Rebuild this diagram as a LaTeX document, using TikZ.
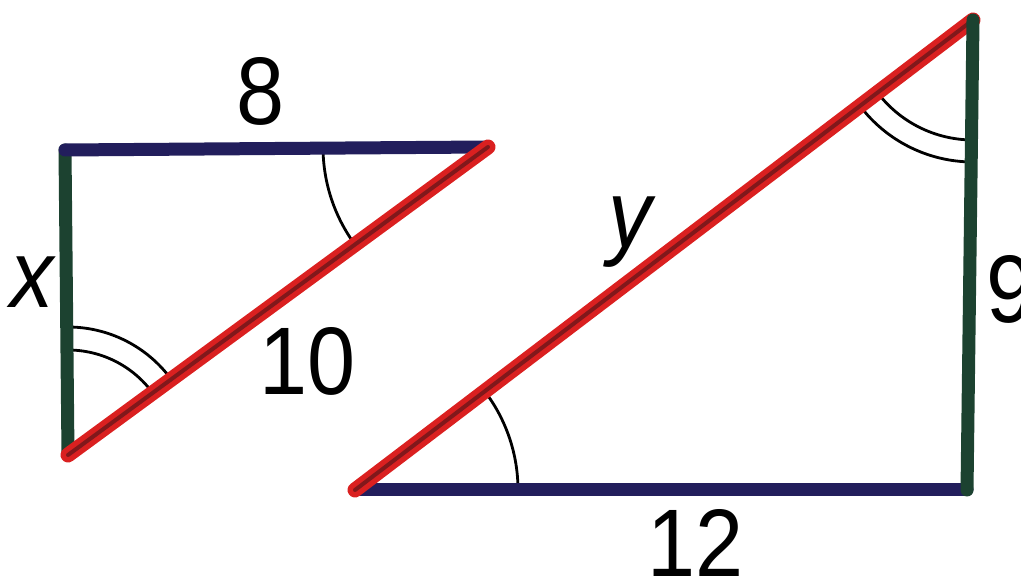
\documentclass[tikz,border=0pt]{standalone}
\usepackage{fontspec}
\setmainfont{Liberation Sans}
\usetikzlibrary{angles}
\definecolor{navy}{RGB}{34,30,92}
\definecolor{dgreen}{RGB}{28,66,48}
\definecolor{hred}{RGB}{218,32,32}
\definecolor{hcore}{RGB}{70,20,25}
\begin{document}
\begin{tikzpicture}[x=0.5pt,y=0.5pt,
  hside/.style={draw=navy,line width=6.5pt,line cap=round},
  vside/.style={draw=dgreen,line width=6.5pt,line cap=round},
  hyp/.style={draw=hred,line width=7.5pt,line cap=round},
  hypcore/.style={draw=hcore,line width=2pt,line cap=round,opacity=0.6},
  anglemark/.style={draw=black,line width=1.4pt},
  lbl/.style={font=\fontsize{48}{48}\selectfont,inner sep=0pt,anchor=base,xscale=0.9}]
\useasboundingbox (0,0) rectangle (1021,587);
% vertices
\coordinate (A1) at (65,437);
\coordinate (B1) at (488,440);
\coordinate (C1) at (68,132);
\coordinate (A2) at (355,97);
\coordinate (B2) at (967,97);
\coordinate (C2) at (973,567);
% angle marks
\pic[anglemark,angle radius=82.5pt] {angle=A1--B1--C1};
\pic[anglemark,angle radius=52.5pt] {angle=B1--C1--A1};
\pic[anglemark,angle radius=64pt] {angle=B1--C1--A1};
\pic[anglemark,angle radius=81.5pt] {angle=B2--A2--C2};
\pic[anglemark,angle radius=60pt] {angle=A2--C2--B2};
\pic[anglemark,angle radius=71pt] {angle=A2--C2--B2};
% left triangle
\draw[vside] (A1) -- (C1);
\draw[hside] (A1) -- (B1);
\draw[hyp] (B1) -- (C1);
\draw[hypcore] (B1) -- (C1);
% right triangle
\draw[hside] (A2) -- (B2);
\draw[hyp] (A2) -- (C2);
\draw[hypcore] (A2) -- (C2);
\draw[vside] (B2) -- (C2);
% labels
\node[lbl] (l8) at (261,462) {8};
\node[lbl] (lx) at (32,279) {\itshape x};
\node[lbl] (l10) at (308,192) {10};
\node[lbl] (ly) at (630,339) {\itshape y};
\node[lbl,anchor=base west] (l9) at (986,264) {9};
\node[lbl] (l12) at (696,10) {12};
\end{tikzpicture}
\end{document}
